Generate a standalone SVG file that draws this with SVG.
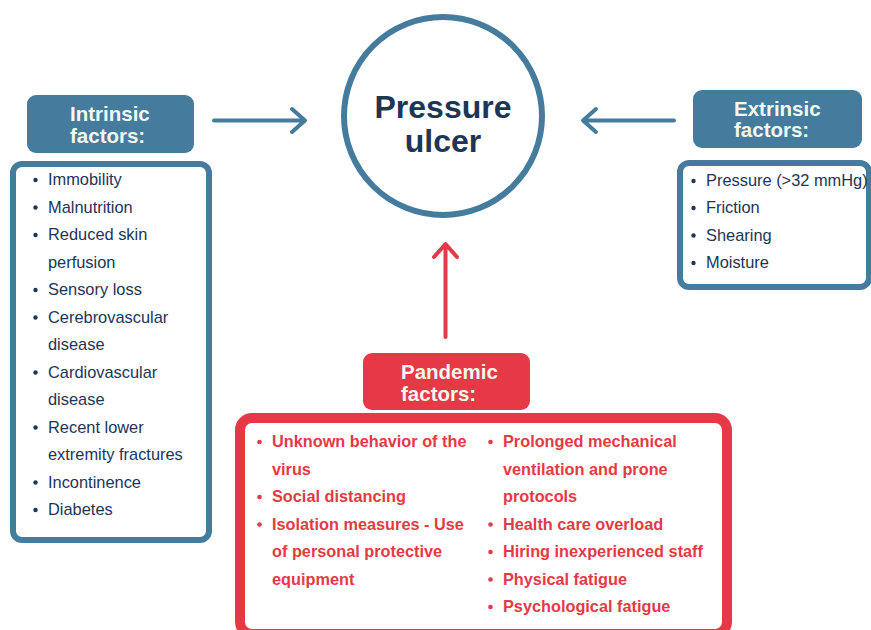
<svg xmlns="http://www.w3.org/2000/svg" width="871" height="630" viewBox="0 0 871 630">
<style>
.hdr{font-family:"Liberation Sans",Arial,sans-serif;font-weight:bold;font-size:20.5px;fill:#f1faee}
.it{font-family:"Liberation Sans",Arial,sans-serif;font-size:16.4px;fill:#1d3557}
.pt{font-family:"Liberation Sans",Arial,sans-serif;font-weight:bold;font-size:16.3px;fill:#e63946}
.blue{fill:#457b9d}
.bbox{fill:#fff;stroke:#457b9d;stroke-width:6}
.arr{fill:none;stroke-width:4;stroke-linecap:round;stroke-linejoin:round}
.ttl{font-family:"Liberation Sans",Arial,sans-serif;font-weight:bold;font-size:32px;fill:#1d3557}
</style>
<rect width="871" height="630" fill="#fff"/>
<g id="connectors">
<g class="arr" stroke="#457b9d">
<path d="M214 120.5H304M292 109L305 120.5L292 132"/>
<path d="M674 120.5H584M596 109L583 120.5L596 132"/>
</g>
<g class="arr" stroke="#e63946">
<path d="M445.5 337V246M434 257L445.5 244L457 257"/>
</g>
</g>
<g id="pressure-ulcer">
<circle cx="443" cy="116" r="99" fill="#fff" stroke="#457b9d" stroke-width="6"/>
<text x="443" y="118" text-anchor="middle" class="ttl">Pressure</text>
<text x="443" y="152" text-anchor="middle" class="ttl">ulcer</text>
</g>
<g id="intrinsic-header">
<rect x="27" y="95" width="167" height="58" rx="9" class="blue"/>
<text x="70" y="121" class="hdr">Intrinsic</text>
<text x="70" y="142.5" class="hdr">factors:</text>
</g>
<g id="intrinsic-list">
<rect x="13" y="164" width="196" height="376" rx="9" class="bbox"/>
<g class="it">
<text x="48" y="185">Immobility</text>
<text x="48" y="212.5">Malnutrition</text>
<text x="48" y="240">Reduced skin</text>
<text x="48" y="267.5">perfusion</text>
<text x="48" y="295">Sensory loss</text>
<text x="48" y="322.5">Cerebrovascular</text>
<text x="48" y="350">disease</text>
<text x="48" y="377.5">Cardiovascular</text>
<text x="48" y="405">disease</text>
<text x="48" y="432.5">Recent lower</text>
<text x="48" y="460">extremity fractures</text>
<text x="48" y="487.5">Incontinence</text>
<text x="48" y="515">Diabetes</text>
</g>
<g fill="#1d3557">
<circle cx="35.5" cy="180" r="2.2"/>
<circle cx="35.5" cy="207.5" r="2.2"/>
<circle cx="35.5" cy="235" r="2.2"/>
<circle cx="35.5" cy="290" r="2.2"/>
<circle cx="35.5" cy="317.5" r="2.2"/>
<circle cx="35.5" cy="372.5" r="2.2"/>
<circle cx="35.5" cy="427.5" r="2.2"/>
<circle cx="35.5" cy="482.5" r="2.2"/>
<circle cx="35.5" cy="510" r="2.2"/>
</g>
</g>
<g id="extrinsic-header">
<rect x="693" y="90" width="169" height="58" rx="9" class="blue"/>
<text x="734" y="115.5" class="hdr">Extrinsic</text>
<text x="734" y="137" class="hdr">factors:</text>
</g>
<g id="extrinsic-list">
<rect x="680" y="163" width="189" height="124" rx="9" class="bbox"/>
<g class="it">
<text x="706" y="186">Pressure (&gt;32 mmHg)</text>
<text x="706" y="213">Friction</text>
<text x="706" y="240.5">Shearing</text>
<text x="706" y="268">Moisture</text>
</g>
<g fill="#1d3557">
<circle cx="693.5" cy="181" r="2.2"/>
<circle cx="693.5" cy="208" r="2.2"/>
<circle cx="693.5" cy="235.5" r="2.2"/>
<circle cx="693.5" cy="263" r="2.2"/>
</g>
</g>
<g id="pandemic-header">
<rect x="363" y="353" width="167" height="57" rx="9" fill="#e63946"/>
<text x="401" y="379" class="hdr">Pandemic</text>
<text x="401" y="400.5" class="hdr">factors:</text>
</g>
<g id="pandemic-list">
<rect x="240" y="418" width="487" height="216" rx="12" fill="#fff" stroke="#e63946" stroke-width="10"/>
<g class="pt">
<text x="272" y="447">Unknown behavior of the</text>
<text x="272" y="474.5">virus</text>
<text x="272" y="502">Social distancing</text>
<text x="272" y="529.5">Isolation measures - Use</text>
<text x="272" y="557">of personal protective</text>
<text x="272" y="584.5">equipment</text>
<text x="503" y="447">Prolonged mechanical</text>
<text x="503" y="474.5">ventilation and prone</text>
<text x="503" y="502">protocols</text>
<text x="503" y="529.5">Health care overload</text>
<text x="503" y="557">Hiring inexperienced staff</text>
<text x="503" y="584.5">Physical fatigue</text>
<text x="503" y="612">Psychological fatigue</text>
</g>
<g fill="#e63946">
<circle cx="259.5" cy="442" r="2.3"/>
<circle cx="259.5" cy="497" r="2.3"/>
<circle cx="259.5" cy="524.5" r="2.3"/>
<circle cx="490.5" cy="442" r="2.3"/>
<circle cx="490.5" cy="524.5" r="2.3"/>
<circle cx="490.5" cy="552" r="2.3"/>
<circle cx="490.5" cy="579.5" r="2.3"/>
<circle cx="490.5" cy="607" r="2.3"/>
</g>
</g>
</svg>
